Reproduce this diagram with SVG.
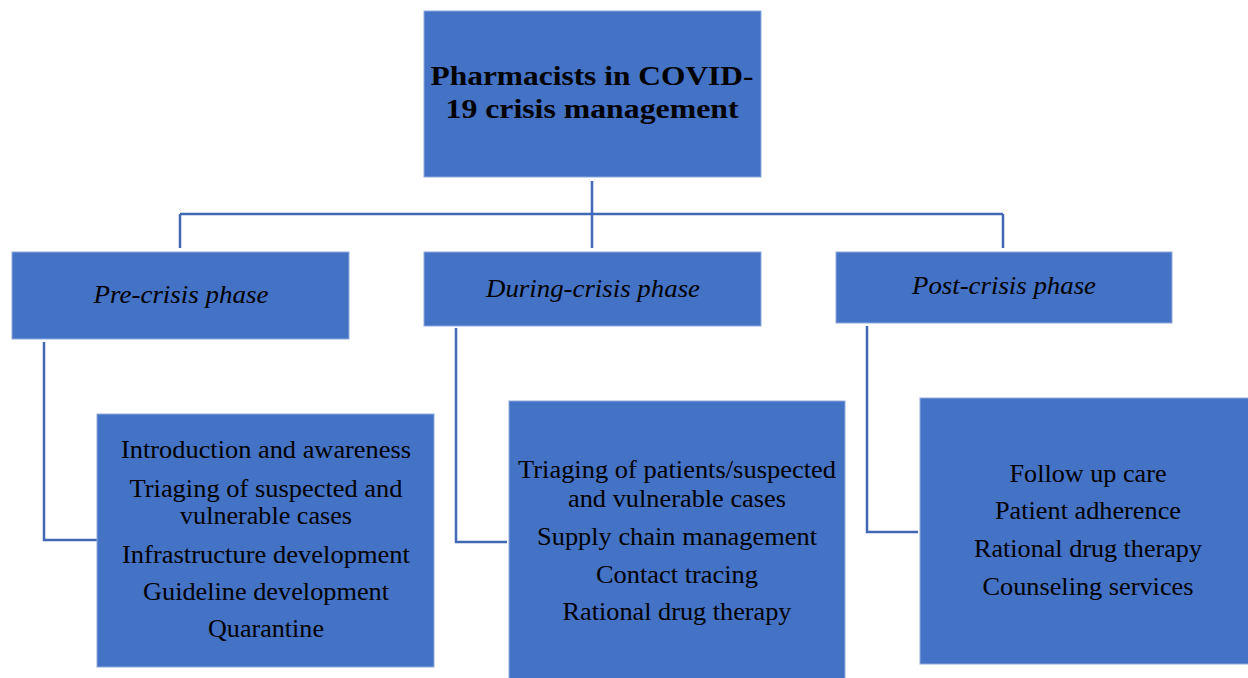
<svg xmlns="http://www.w3.org/2000/svg" width="1248" height="678" viewBox="0 0 1248 678">
<style>
.box{fill:#4472C4;stroke:#8FAADC;stroke-width:1}
.t{font-family:"Liberation Serif",serif;fill:#000;text-anchor:middle}
.title{font-size:28px;font-weight:bold}
.ph{font-size:25px;font-style:italic}
.it{font-size:25px}
.ln{fill:none;stroke:#4068B4;stroke-width:2.5}
</style>
<rect width="1248" height="678" fill="#fff"/>
<g id="connectors">
<path class="ln" d="M592 181V248M180 214H1003M180 214V248M1003 214V248"/>
<path class="ln" d="M44 342V540H97"/>
<path class="ln" d="M456 328V542H507"/>
<path class="ln" d="M867 326V532H918"/>
</g>
<g id="root">
<rect class="box" x="424" y="11" width="337" height="166"/>
<text class="t title" x="592" y="85" textLength="323" lengthAdjust="spacingAndGlyphs">Pharmacists in COVID-</text>
<text class="t title" x="592" y="118" textLength="293" lengthAdjust="spacingAndGlyphs">19 crisis management</text>
</g>
<g id="pre">
<rect class="box" x="12" y="252" width="337" height="87"/>
<text class="t ph" x="181" y="303" textLength="175" lengthAdjust="spacingAndGlyphs">Pre-crisis phase</text>
</g>
<g id="during">
<rect class="box" x="424" y="252" width="337" height="74"/>
<text class="t ph" x="593" y="297" textLength="214" lengthAdjust="spacingAndGlyphs">During-crisis phase</text>
</g>
<g id="post">
<rect class="box" x="836" y="252" width="336" height="71"/>
<text class="t ph" x="1004" y="294" textLength="184" lengthAdjust="spacingAndGlyphs">Post-crisis phase</text>
</g>
<g id="pre-items">
<rect class="box" x="97" y="414" width="337" height="253"/>
<text class="t it" x="266" y="458" textLength="290" lengthAdjust="spacingAndGlyphs">Introduction and awareness</text>
<text class="t it" x="266" y="497" textLength="273" lengthAdjust="spacingAndGlyphs">Triaging of suspected and</text>
<text class="t it" x="266" y="524" textLength="172" lengthAdjust="spacingAndGlyphs">vulnerable cases</text>
<text class="t it" x="266" y="563" textLength="288" lengthAdjust="spacingAndGlyphs">Infrastructure development</text>
<text class="t it" x="266" y="600" textLength="246" lengthAdjust="spacingAndGlyphs">Guideline development</text>
<text class="t it" x="266" y="637" textLength="116" lengthAdjust="spacingAndGlyphs">Quarantine</text>
</g>
<g id="during-items">
<rect class="box" x="509" y="401" width="336" height="282"/>
<text class="t it" x="677" y="478" textLength="318" lengthAdjust="spacingAndGlyphs">Triaging of patients/suspected</text>
<text class="t it" x="677" y="507" textLength="218" lengthAdjust="spacingAndGlyphs">and vulnerable cases</text>
<text class="t it" x="677" y="545" textLength="280" lengthAdjust="spacingAndGlyphs">Supply chain management</text>
<text class="t it" x="677" y="583" textLength="162" lengthAdjust="spacingAndGlyphs">Contact tracing</text>
<text class="t it" x="677" y="620" textLength="229" lengthAdjust="spacingAndGlyphs">Rational drug therapy</text>
</g>
<g id="post-items">
<rect class="box" x="920" y="398" width="336" height="266"/>
<text class="t it" x="1088" y="482" textLength="157" lengthAdjust="spacingAndGlyphs">Follow up care</text>
<text class="t it" x="1088" y="519" textLength="186" lengthAdjust="spacingAndGlyphs">Patient adherence</text>
<text class="t it" x="1088" y="557" textLength="228" lengthAdjust="spacingAndGlyphs">Rational drug therapy</text>
<text class="t it" x="1088" y="595" textLength="211" lengthAdjust="spacingAndGlyphs">Counseling services</text>
</g>
</svg>
